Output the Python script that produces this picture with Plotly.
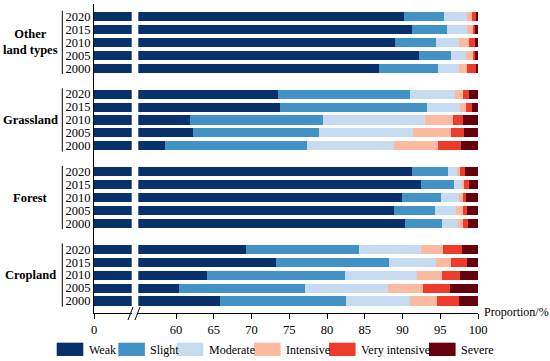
import plotly.graph_objects as go

# ---------------- data ----------------
groups = ["Cropland", "Forest", "Grassland", "Other land types"]
group_labels = ["Cropland", "Forest", "Grassland", "Other<br>land types"]
years = ["2000", "2005", "2010", "2015", "2020"]
levels = ["Weak", "Slight", "Moderate", "Intensive", "Very intensive", "Severe"]
colors = ["#08306b", "#4292c6", "#c6dbef", "#fcbba1", "#ef3b2c", "#67000d"]

# values ordered: Cropland 2000..2020, Forest 2000..2020, Grassland 2000..2020, Other 2000..2020
weak = [65.85, 60.45, 64.15, 73.25, 69.3,
        90.3, 88.9, 89.9, 92.4, 91.25,
        58.55, 62.25, 61.85, 73.8, 73.5,
        86.85, 92.15, 88.95, 91.3, 90.2]
slight = [16.65, 16.6, 18.25, 14.9, 15.0,
          4.95, 5.35, 5.15, 4.45, 4.75,
          18.85, 16.65, 17.6, 19.4, 17.55,
          7.85, 4.25, 5.45, 4.65, 5.3]
moderate = [8.5, 11.0, 9.55, 6.25, 8.1,
            2.1, 2.85, 2.45, 1.05, 1.25,
            11.45, 12.5, 13.55, 4.45, 5.95,
            2.8, 1.95, 3.1, 2.55, 3.0]
intensive = [3.55, 4.7, 3.3, 2.05, 2.9,
             0.65, 0.9, 0.45, 0.3, 0.4,
             5.85, 5.0, 3.7, 0.8, 1.05,
             1.1, 1.0, 1.35, 1.0, 0.7]
very_intensive = [2.9, 3.6, 2.4, 2.1, 2.55,
                  0.7, 0.55, 0.5, 0.6, 0.6,
                  3.1, 1.7, 1.35, 0.7, 0.8,
                  1.1, 0.4, 0.7, 0.25, 0.5]
severe = [2.5, 3.65, 2.35, 1.45, 2.15,
          1.3, 1.45, 1.55, 1.15, 1.75,
          2.2, 1.9, 1.9, 0.85, 1.2,
          0.3, 0.25, 0.5, 0.25, 0.35]
series = [weak, slight, moderate, intensive, very_intensive, severe]

x_ticks_left = [0]
x_ticks_right = [60, 65, 70, 75, 80, 85, 90, 95, 100]

# ---------------- layout helpers ----------------
FONT = "Liberation Serif"
W, H = 550, 361
ML, MR, MT, MB = 94, 72, 4, 48
PW, PH = W - ML - MR, H - MT - MB

def px_x(p):
    return (p - ML) / PW

def px_y(p):
    return (H - MB - p) / PH

ypos = []
for gi in range(len(groups)):
    for yi in range(len(years)):
        ypos.append(gi * 6 + yi)

fig = go.Figure()

# left segment (0-5): weak only
fig.add_trace(go.Bar(x=weak, y=ypos, orientation="h", xaxis="x", yaxis="y",
                     marker=dict(color=colors[0], line=dict(width=0)),
                     showlegend=False, hoverinfo="skip"))
# right segment (55-100): stacked
for name, vals, col in zip(levels, series, colors):
    fig.add_trace(go.Bar(x=vals, y=ypos, orientation="h", xaxis="x2", yaxis="y",
                         name=name, marker=dict(color=col, line=dict(width=0)),
                         showlegend=False))

fig.update_layout(
    width=W, height=H,
    margin=dict(l=ML, r=MR, t=MT, b=MB),
    barmode="stack", bargap=0.3,
    plot_bgcolor="white", paper_bgcolor="white",
    font=dict(family=FONT, size=13, color="black"),
    xaxis=dict(domain=[0, px_x(131.7)], range=[0, 5], tickvals=x_ticks_left,
               showline=True, linecolor="black", linewidth=1,
               ticks="outside", ticklen=5, tickcolor="black",
               showgrid=False, zeroline=False, anchor="y",
               tickfont=dict(size=12.5)),
    xaxis2=dict(domain=[px_x(138.3), 1], range=[55, 100], tickvals=x_ticks_right,
                showline=True, linecolor="black", linewidth=1,
                ticks="outside", ticklen=5, tickcolor="black",
                showgrid=False, zeroline=False, anchor="y",
                tickfont=dict(size=12.5)),
    yaxis=dict(range=[-0.93, 22.97], tickvals=ypos,
               ticktext=years * len(groups),
               showline=True, linecolor="black", linewidth=1,
               ticks="", showgrid=False, zeroline=False, anchor="x",
               tickfont=dict(size=12.5)),
)

shapes = []
annotations = []
# brackets and group labels
for gi, lab in enumerate(group_labels):
    y0 = gi * 6 - 0.45
    y1 = gi * 6 + 4 + 0.45
    shapes.append(dict(type="line", xref="paper", yref="y",
                       x0=px_x(62.3), x1=px_x(62.3), y0=y0, y1=y1,
                       line=dict(color="black", width=1)))
    annotations.append(dict(xref="paper", yref="y", x=px_x(30), y=gi * 6 + 2,
                            text="<b>" + lab + "</b>", showarrow=False,
                            xanchor="center", yanchor="middle",
                            font=dict(size=12.5, family=FONT)))

# axis break marks
for x0 in (128.0, 135.0):
    shapes.append(dict(type="line", xref="paper", yref="paper",
                       x0=px_x(x0), x1=px_x(x0 + 5), y0=px_y(320), y1=px_y(307),
                       line=dict(color="black", width=1)))

# axis title
annotations.append(dict(xref="paper", yref="paper", x=px_x(482), y=px_y(311.5),
                        text="Proportion/%", showarrow=False,
                        xanchor="left", yanchor="middle",
                        font=dict(size=12, family=FONT)))

# manual legend
sw_starts = [56.7, 118.3, 176.7, 254.0, 329.0, 429.0]
sw_w = 26.6
for name, col, xs in zip(levels, colors, sw_starts):
    shapes.append(dict(type="rect", xref="paper", yref="paper",
                       x0=px_x(xs), x1=px_x(xs + sw_w), y0=px_y(356), y1=px_y(342.7),
                       fillcolor=col, line=dict(width=0)))
    annotations.append(dict(xref="paper", yref="paper", x=px_x(xs + sw_w + 3.5),
                            y=px_y(349.5), text=name, showarrow=False,
                            xanchor="left", yanchor="middle",
                            font=dict(size=12, family=FONT)))

fig.update_layout(shapes=shapes, annotations=annotations)
fig.write_html("out.html",
               config={"displayModeBar": False},
               post_script="document.body.style.margin='0';document.body.style.overflow='hidden';")
